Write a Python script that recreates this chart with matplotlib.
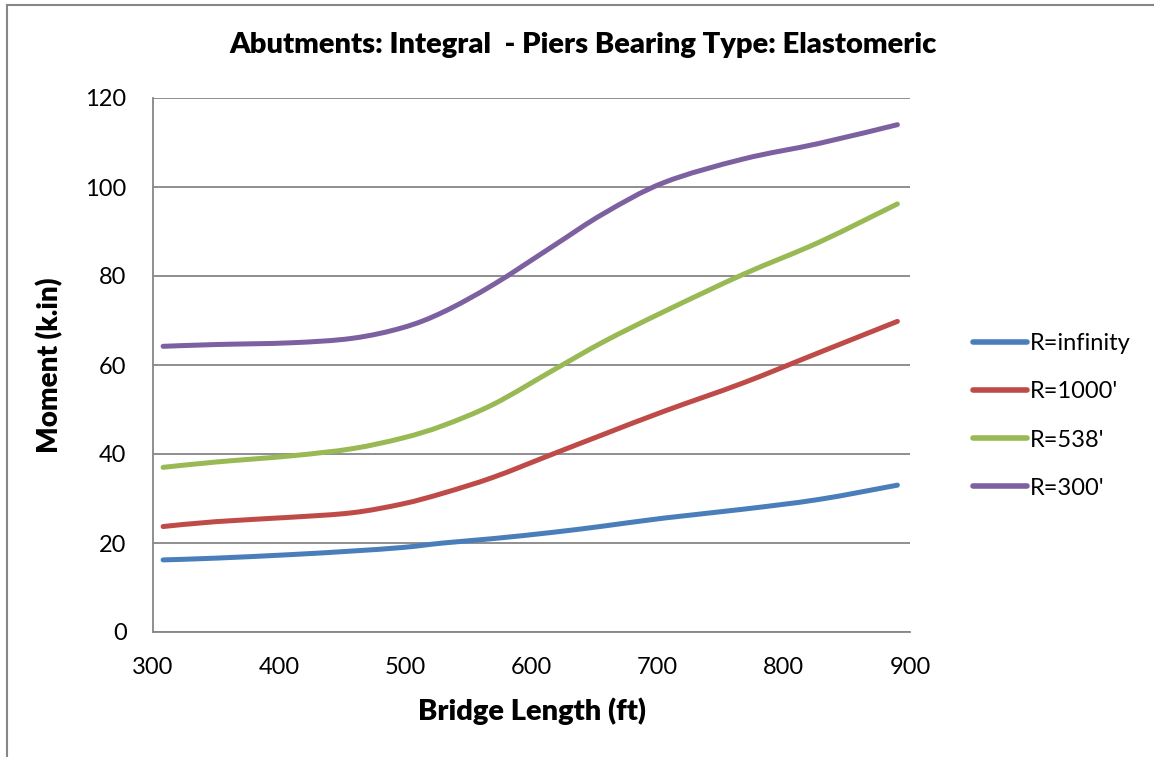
import numpy as np
import matplotlib.pyplot as plt
from matplotlib.lines import Line2D
from matplotlib.path import Path
from matplotlib.patches import PathPatch

lengths = [308, 350, 410, 458, 498, 530, 570, 617, 657, 705, 768, 828, 890]

r_inf = [16.2, 16.6, 17.4, 18.2, 19.0, 20.0, 21.0, 22.4, 23.8, 25.6, 27.6, 29.8, 33.0]
r_1000 = [23.7, 24.8, 25.8, 26.8, 28.8, 31.2, 34.8, 40.0, 44.4, 49.6, 56.0, 62.8, 69.8]
r_538 = [37.0, 38.2, 39.6, 41.2, 43.6, 46.4, 51.2, 58.8, 65.2, 72.0, 80.4, 87.6, 96.2]
r_300 = [64.2, 64.6, 65.0, 66.0, 68.4, 71.9, 78.1, 86.7, 94.0, 101.0, 106.3, 109.8, 114.0]

names = ["R=infinity", "R=1000'", "R=538'", "R=300'"]
colors = ["#4A7EBB", "#BE4B48", "#98B954", "#7D60A0"]

xticks = [300, 400, 500, 600, 700, 800, 900]
yticks = [0, 20, 40, 60, 80, 100, 120]


def smooth_path(xs, ys):
    # Excel-style smoothed line: bezier segments through the data points
    p = np.column_stack([xs, ys]).astype(float)
    verts = [p[0]]
    codes = [Path.MOVETO]
    for i in range(len(p) - 1):
        p0 = p[i - 1] if i > 0 else p[i]
        p3 = p[i + 2] if i + 2 < len(p) else p[i + 1]
        c1 = p[i] + (p[i + 1] - p0) / 6
        c2 = p[i + 1] - (p3 - p[i]) / 6
        verts += [c1, c2, p[i + 1]]
        codes += [Path.CURVE4] * 3
    return Path(verts, codes)


plt.rcParams['font.family'] = ['Lato', 'DejaVu Sans']

fig = plt.figure(figsize=(11.54, 7.57), dpi=100)
ax = fig.add_axes([153/1154, 1 - 632/757, (910 - 153)/1154, (632 - 98)/757])

for ys, name, c in zip([r_inf, r_1000, r_538, r_300], names, colors):
    ax.add_patch(PathPatch(smooth_path(lengths, ys), fill=False, edgecolor=c,
                           lw=3.6, capstyle='round', label=name))

ax.set_xlim(300, 900)
ax.set_ylim(0, 120)
ax.set_xticks(xticks)
ax.set_yticks(yticks)
ax.tick_params(length=0, labelsize=17)
ax.tick_params(axis='y', pad=19)
ax.tick_params(axis='x', pad=18)
ax.yaxis.grid(True, color='#868686', lw=1.3)
ax.set_axisbelow(True)
for s in ['top', 'right']:
    ax.spines[s].set_visible(False)
for s in ['left', 'bottom']:
    ax.spines[s].set_color('#868686')
    ax.spines[s].set_linewidth(1.3)

ax.set_xlabel("Bridge Length (ft)", fontsize=21, fontweight='heavy', labelpad=14)
ax.set_ylabel("Moment (k.in)", fontsize=20, fontweight='heavy', labelpad=16)
fig.text(0.505, 1 - 45/757, "Abutments: Integral  - Piers Bearing Type: Elastomeric",
         ha='center', va='center', fontsize=21, fontweight='heavy')

handles = [Line2D([], [], color=c, lw=4, solid_capstyle='round') for c in colors]
fig.legend(handles, names, loc='center left', bbox_to_anchor=(961/1154, 1 - 416/757),
           frameon=False, fontsize=17, handlelength=2.3, handletextpad=0.1,
           labelspacing=1.15, borderpad=0)

# outer chart border
fig.add_artist(Line2D([7/1154, 7/1154], [0, 1 - 5/757], color='#868686', lw=1.5))
fig.add_artist(Line2D([7/1154, 1], [1 - 5/757, 1 - 5/757], color='#868686', lw=1.5))

fig.savefig("out.png", dpi=100)
